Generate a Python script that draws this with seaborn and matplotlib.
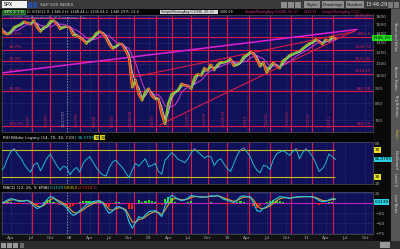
import numpy as np
import pandas as pd
import matplotlib
matplotlib.use("Agg")
import matplotlib.pyplot as plt
import matplotlib.transforms as mtransforms
from matplotlib.patches import Rectangle
from matplotlib.collections import LineCollection
from matplotlib.ticker import NullLocator, NullFormatter
import seaborn as sns

sns.set_theme(style="dark")
plt.rcParams['font.family'] = ['DejaVu Sans']

W, H = 400, 249

# ---------------- data (months since Jan 2007, semi-monthly samples) ----------------
months = np.arange(1.5, 52.51, 0.5)

close = [
    1455, 1400, 1390, 1420, 1470, 1485, 1505, 1535, 1520, 1505, 1550, 1465, 1420, 1470, 1480, 1540, 1550, 1510, 1450, 1470, 1480,
    1465, 1380, 1380, 1350, 1330, 1290, 1330, 1350, 1400, 1420, 1400, 1350, 1280, 1240, 1260, 1290, 1280, 1220, 1160, 910, 965, 860, 820, 880,
    900, 850, 830, 830, 735, 680, 800, 860, 875, 890, 935, 925, 920, 900, 985, 1010, 1000, 1060, 1040, 1090, 1045, 1090, 1110, 1110,
    1120, 1140, 1080, 1090, 1110, 1160, 1175, 1205, 1190, 1135, 1075, 1110, 1025, 1075, 1105, 1080, 1060, 1125, 1145, 1175, 1185, 1200, 1210, 1240,
    1265, 1290, 1300, 1335, 1310, 1285, 1330, 1315, 1360, 1340,
]

rsi = [
    38, 45, 58, 68, 72, 64, 58, 49, 42, 37, 48, 51, 39, 48, 58, 64, 55, 47, 40, 46, 44,
    33, 40, 44, 37, 50, 56, 60, 52, 44, 37, 33, 31, 44, 52, 55, 49, 44, 36, 29, 40, 50, 46, 52, 57,
    45, 47, 50, 38, 34, 55, 60, 66, 62, 56, 54, 51, 57, 66, 72, 67, 63, 58, 61, 60, 47, 54, 57, 49,
    42, 38, 50, 62, 70, 73, 67, 60, 48, 40, 36, 47, 46, 41, 55, 64, 67, 69, 66, 62, 68, 72, 57, 66,
    72, 67, 60, 50, 38, 42, 50, 64, 60, 56,
]

macd = [
    -1, 3, 8, 11, 9, 5, 4, 5, 7, 1, -8, -14, -10, -3, 9, 16, 14, 5, 0, -5, -12,
    -24, -31, -27, -19, -12, -5, -1, 3, 5, 6, 0, -15, -26, -20, -11, -9, -14, -20, -47, -63, -49, -34, -38, -30,
    -22, -20, -19, -26, -34, -7, 10, 19, 15, 9, 6, 8, 12, 19, 17, 16, 14, 15, 16, 18, 17, 19, 14, 9,
    7, 4, 1, 8, 16, 18, 16, 15, 0, -19, -21, -14, -9, -3, 6, 11, 16, 15, 14, 11, 14, 15, 16, 16,
    16, 16, 15, 12, 6, 3, 4, 8, 11, 10,
]

fib_levels = [1576.09, 1361.50, 1228.74, 1121.44, 1014.15, 881.38, 666.79]
fib_pct = ["", "23.6%", "38.2%", "50.0%", "61.8%", "76.4%", "100.0%"]

marker_months = [6.2, 8.95, 13.53, 16.27, 19.02, 21.77, 25.12, 27.56, 30.46, 33.05,
                 35.95, 39.31, 42.5, 45.71, 48.92, 52.12]
marker_labels = ["7/6/07", "9/28/07", "2/15/08", "5/8/08", "8/1/08", "10/24/08", "2/4/09",
                 "4/17/09", "7/14/09", "10/2/09", "12/29/09", "4/9/10", "7/16/10",
                 "10/22/10", "1/28/11", "5/4/11"]
today_month = 11.55
today_label = "12/17/07"

quarter_months = [3, 6, 9, 12, 15, 18, 21, 24, 27, 30, 33, 36, 39, 42, 45, 48, 51, 54, 57]
quarter_labels = ["Apr", "Jul", "Oct", "08", "Apr", "Jul", "Oct", "09", "Apr", "Jul", "Oct",
                  "10", "Apr", "Jul", "Oct", "11", "Apr", "Jul", "Oct"]

price_ticks = [700, 800, 900, 1000, 1100, 1200, 1300, 1400, 1500, 1600]
rsi_ticks = [20, 80]
macd_ticks = [25, -25, -50, -75]

# trendlines: (month, price) endpoints
trend_magenta = [(1.33, 1018.6), (55.78, 1444.3)]
trend_red = [[(25.73, 674.0), (55.48, 1432.9)],
             [(21.61, 986.6), (55.48, 1421.0)]]

last_close_label = "1346.29"
rsi_last_label = "56.0759"
macd_last_label = "0.1139"

# ---------------- figure ----------------
XL = (1.632, 58.22)
NAVY = '#11115a'
RED = '#dc1a44'
GRAYTXT = '#a8a8a8'

fig = plt.figure(figsize=(W / 100, H / 100), dpi=100)
fig.patch.set_facecolor('#121212')

ui = fig.add_axes([0, 0, 1, 1], zorder=0)
ui.set_xlim(0, W)
ui.set_ylim(H, 0)
ui.axis('off')


def box(x0, y0, x1, y1, fc, ec='none', lw=0.5):
    ui.add_patch(Rectangle((x0, y0), x1 - x0, y1 - y0, facecolor=fc, edgecolor=ec, lw=lw))


def txt(x, y, s, c='#d0d0d0', fs=3.4, **kw):
    ui.text(x, y, s, color=c, fontsize=fs, va='center', **kw)


def pax(x0, y0, x1, y1):
    a = fig.add_axes([x0 / W, 1 - y1 / H, (x1 - x0) / W, (y1 - y0) / H], zorder=2)
    a.set_facecolor(NAVY)
    for sp in a.spines.values():
        sp.set_color('#505060')
        sp.set_linewidth(0.5)
    a.grid(False)
    a.set_xlim(*XL)
    return a


# toolbar
box(0, 0, 400, 9, '#3a3a3a')
box(2, 1, 27, 8, '#f0f0f0')
txt(4, 4.6, "SPX", c='#000000', fs=3.4)
box(28, 1.5, 32, 7.5, '#2a4c9a')
box(33, 1.5, 37, 7.5, '#2a4c9a')
txt(40, 4.6, "S&P 500 INDEX", c='#c8c8c8', fs=3.2)
for bx in (281, 288, 295):
    box(bx, 1.5, bx + 6, 7.5, '#8c8c8c')
for (x0, x1, s) in ((304, 320, "Style"), (322, 344, "Drawings"), (346, 364, "Studies")):
    box(x0, 1.2, x1, 7.8, '#8e8e8e')
    txt((x0 + x1) / 2, 4.6, s, c='#101010', fs=3.2, ha='center')
txt(366, 4.6, "13:46:29", c='#f0f0f0', fs=3.6)
box(388, 1.5, 393, 7.5, '#7a7a7a')
box(394, 1.5, 399, 7.5, '#7a7a7a')

# header line
box(0, 9, 400, 14.5, '#050505')
box(2, 9.5, 25, 14, '#1c5a1c', ec='#30c030', lw=0.4)
txt(3.5, 11.8, "SPX 5 Y D", c='#e8ffe8', fs=3.0)
txt(27, 11.8, "D: 5/16/11 O: 1348.2 H: 1348.44 L: 1335.04 C: 1346.29 R: 13.4",
    c='#e8e8e8', fs=2.5)
box(160, 9.6, 218, 14, '#d8d8d8')
txt(161, 11.8, "SimpleMovingAvg (CLOSE, 20, 0)", c='#101010', fs=2.3)
txt(220, 11.8, "1306.09", c='#e8e8e8', fs=2.3)
txt(245, 11.8, "SimpleMovingAvg (CLOSE, 50, 0)", c='#e03090', fs=2.3)
txt(304, 11.8, "1331.37", c='#e03090', fs=2.3)
txt(322, 11.8, "SimpleMovingAvg (CLO...", c='#c02c80', fs=2.3)

# right columns
box(373, 14, 391, 241, '#0a0a0a')
box(391, 9, 400, 241, '#565656')
side = [("Times and Sales", 36), ("Active Trader", 78), ("Big Buttons", 106),
        ("Chart", 134), ("Dashboard", 160), ("Level II", 179), ("Live News", 203)]
for s, yy in side:
    ui.text(395.5, yy, s, color='#f0c030' if s == "Chart" else '#e0e0e0', fontsize=2.6,
            rotation=270, ha='center', va='center')

# separators / headers
box(0, 132, 373, 141.5, '#050505')
txt(3, 137.5, "RSI Wilder Legacy (14, 70, 30, C(0))", c='#e8e8e8', fs=3.0)
txt(78, 137.5, rsi_last_label, c='#30d8e8', fs=3.0)
box(94, 135.3, 99, 139.8, '#e0d820')
txt(94.5, 137.5, "70", c='#000000', fs=2.9)
box(100, 135.3, 105, 139.8, '#e0d820')
txt(100.5, 137.5, "30", c='#000000', fs=2.9)

box(0, 183.5, 373, 191.5, '#050505')
txt(3, 188, "MACD (12, 26, 9, EMA)", c='#e8e8e8', fs=3.0)
txt(50, 188, "0.1139", c='#30d8e8', fs=3.0)
txt(64, 188, "0.8452", c='#e8d020', fs=3.0)
txt(78, 188, "-0.7314", c='#ff3030', fs=3.0)
txt(94, 188, "0", c='#e030e0', fs=3.0)

# bottom bar
box(0, 241, 400, 249, '#2c2c2c')
for bx in (1, 7, 13):
    box(bx, 242.5, bx + 5, 247.5, '#9a9a9a')
box(20, 242.5, 24, 247.5, '#6a6a6a')
box(380, 242, 390, 248, '#9a9a9a')

# ---------------- price panel ----------------
axp = pax(2, 14.5, 373, 132)
axp.set_yscale('log')
axp.set_ylim(637, 1627)

for q in quarter_months:
    axp.axvline(q, color='#3a3a80', lw=0.45, ls=(0, (1.5, 1.5)), zorder=1)
for p in price_ticks:
    axp.axhline(p, color='#3a3a80', lw=0.45, ls=(0, (1.5, 1.5)), zorder=1)

trans_p = mtransforms.blended_transform_factory(axp.transAxes, axp.transData)
for lv, pc in zip(fib_levels, fib_pct):
    axp.axhline(lv, color=RED, lw=0.8, zorder=2)
    axp.text(0.995, lv * 1.004, f"{lv:.2f}".rstrip('0').rstrip('.') if lv == 1361.5 else f"{lv:.2f}",
             transform=trans_p, color='#d02050', fontsize=3.0, ha='right', va='bottom', zorder=3)
    if pc:
        axp.text(0.018, lv * 1.004, pc, transform=trans_p, color='#d02050', fontsize=3.0,
                 ha='left', va='bottom', zorder=3)

trans_v = mtransforms.blended_transform_factory(axp.transData, axp.transAxes)
for m, lab in zip(marker_months, marker_labels):
    axp.axvline(m, color=RED, lw=0.8, zorder=2)
    axp.text(m - 0.15, 0.04, lab, transform=trans_v, color='#d02050', fontsize=2.8,
             rotation=90, ha='right', va='bottom', zorder=3)
axp.axvline(today_month, color='#9a9ab0', lw=0.6, ls=(0, (2, 1.5)), zorder=2)
axp.text(today_month - 0.15, 0.04, today_label, transform=trans_v, color='#9a9ab0',
         fontsize=2.8, rotation=90, ha='right', va='bottom', zorder=3)

# trendlines
(mx0, my0), (mx1, my1) = trend_magenta
axp.plot([mx0, mx1], [my0, my1], color='#e020d0', lw=1.1, zorder=3)
for (a0, b0), (a1, b1) in trend_red:
    axp.plot([a0, a1], [b0, b1], color=RED, lw=0.8, zorder=3)

# price series + moving averages
df = pd.DataFrame({'month': months, 'close': close})
df['sma20'] = df['close'].rolling(2).mean()
df['sma50'] = df['close'].rolling(5).mean()
sns.lineplot(data=df, x='month', y='close', ax=axp, color='#e8a028', lw=1.8, zorder=4)
pts = np.column_stack([df['month'].values, df['close'].values])
segs = np.stack([pts[:-1], pts[1:]], axis=1)
cols = ['#38d838' if b >= a else '#e83020' for a, b in zip(close[:-1], close[1:])]
axp.add_collection(LineCollection(segs, colors=cols, linewidths=0.8, zorder=5))
sns.lineplot(data=df, x='month', y='sma50', ax=axp, color='#b838c8', lw=0.8, zorder=4)
sns.lineplot(data=df, x='month', y='sma20', ax=axp, color='#c8c8d0', lw=0.6, zorder=4)

axp.text(0.02, 0.985, "\u00a92008 TD Ameritrade IP Company, Inc.", transform=axp.transAxes,
         color='#8888a8', fontsize=2.8, ha='left', va='top', zorder=6)

axp.yaxis.tick_right()
axp.set_yticks(price_ticks)
axp.set_yticklabels([str(p) for p in price_ticks])
axp.yaxis.set_minor_locator(NullLocator())
axp.yaxis.set_minor_formatter(NullFormatter())
axp.tick_params(axis='y', length=0, pad=1.5, labelsize=3.2, labelcolor=GRAYTXT)
axp.set_xticks([])
axp.set_xlabel('')
axp.set_ylabel('')
axp.set_xlim(*XL)
axp.text(1.0, float(last_close_label), last_close_label, transform=trans_p, color='#000000',
         fontsize=3.2, ha='left', va='center', clip_on=False, zorder=7,
         bbox=dict(boxstyle='square,pad=0.25', fc='#20e020', ec='none'))

# ---------------- RSI panel ----------------
axr = pax(2, 142, 373, 183.5)
axr.set_ylim(21, 82)
for q in quarter_months:
    axr.axvline(q, color='#3a3a80', lw=0.45, ls=(0, (1.5, 1.5)), zorder=1)
for m in marker_months:
    axr.axvline(m, color=RED, lw=0.8, zorder=2)
axr.axvline(today_month, color='#9a9ab0', lw=0.6, ls=(0, (2, 1.5)), zorder=2)
axr.hlines([70, 30], months[0] - 1.5, months[-1], color='#c8c020', lw=0.8, zorder=3)
dfr = pd.DataFrame({'month': months, 'rsi': rsi})
dfr['hot'] = dfr['rsi'].where(dfr['rsi'] >= 70)
sns.lineplot(data=dfr, x='month', y='rsi', ax=axr, color='#20b8d0', lw=0.7, zorder=4)
axr.scatter(dfr['month'], dfr['hot'], s=1.2, color='#ff3050', linewidths=0, zorder=5)
axr.yaxis.tick_right()
axr.set_yticks(rsi_ticks)
axr.tick_params(axis='y', length=0, pad=1.5, labelsize=3.2, labelcolor=GRAYTXT)
axr.set_xticks([])
axr.set_xlabel('')
axr.set_ylabel('')
axr.set_xlim(*XL)
trans_r = mtransforms.blended_transform_factory(axr.transAxes, axr.transData)
for val, s, fc in ((70, "70", '#e8e020'), (30, "30", '#e8e020'), (56.0759, rsi_last_label, '#28d0e0')):
    axr.text(1.004, val, s, transform=trans_r, color='#000000', fontsize=3.0, ha='left',
             va='center', clip_on=False, zorder=7, bbox=dict(boxstyle='square,pad=0.2', fc=fc, ec='none'))

# ---------------- MACD panel ----------------
axm = pax(2, 192, 373, 234)
axm.set_ylim(-77.5, 27.5)
for q in quarter_months:
    axm.axvline(q, color='#3a3a80', lw=0.45, ls=(0, (1.5, 1.5)), zorder=1)
for v in macd_ticks:
    axm.axhline(v, color='#3a3a80', lw=0.45, ls=(0, (1.5, 1.5)), zorder=1)
for m in marker_months:
    axm.axvline(m, color=RED, lw=0.8, zorder=2)
axm.axvline(today_month, color='#9a9ab0', lw=0.6, ls=(0, (2, 1.5)), zorder=2)
axm.axhline(0, color='#c020c0', lw=0.8, zorder=3)

dfm = pd.DataFrame({'month': months, 'macd': macd})
dfm['signal'] = dfm['macd'].ewm(span=3, adjust=False).mean()
dfm['diff'] = dfm['macd'] - dfm['signal']
axm.bar(dfm['month'], dfm['diff'], width=0.35, linewidth=0, edgecolor='none',
        color=['#20e020' if d >= 0 else '#ff1818' for d in dfm['diff']], zorder=4)
sns.lineplot(data=dfm, x='month', y='signal', ax=axm, color='#e0a030', lw=0.8, zorder=5)
sns.lineplot(data=dfm, x='month', y='macd', ax=axm, color='#28c8e0', lw=0.8, zorder=6)
axm.yaxis.tick_right()
axm.set_yticks(macd_ticks)
axm.tick_params(axis='y', length=0, pad=1.5, labelsize=3.2, labelcolor=GRAYTXT)
axm.set_xticks(quarter_months)
axm.set_xticklabels(quarter_labels)
axm.tick_params(axis='x', length=0, pad=1.5, labelsize=3.2, labelcolor=GRAYTXT)
axm.set_xlabel('')
axm.set_ylabel('')
axm.set_xlim(*XL)
trans_m = mtransforms.blended_transform_factory(axm.transAxes, axm.transData)
axm.text(1.004, 3, macd_last_label, transform=trans_m, color='#000000', fontsize=3.0,
         ha='left', va='center', clip_on=False, zorder=7,
         bbox=dict(boxstyle='square,pad=0.2', fc='#28d0e0', ec='none'))

fig.savefig("out.png", dpi=100, facecolor=fig.get_facecolor())
